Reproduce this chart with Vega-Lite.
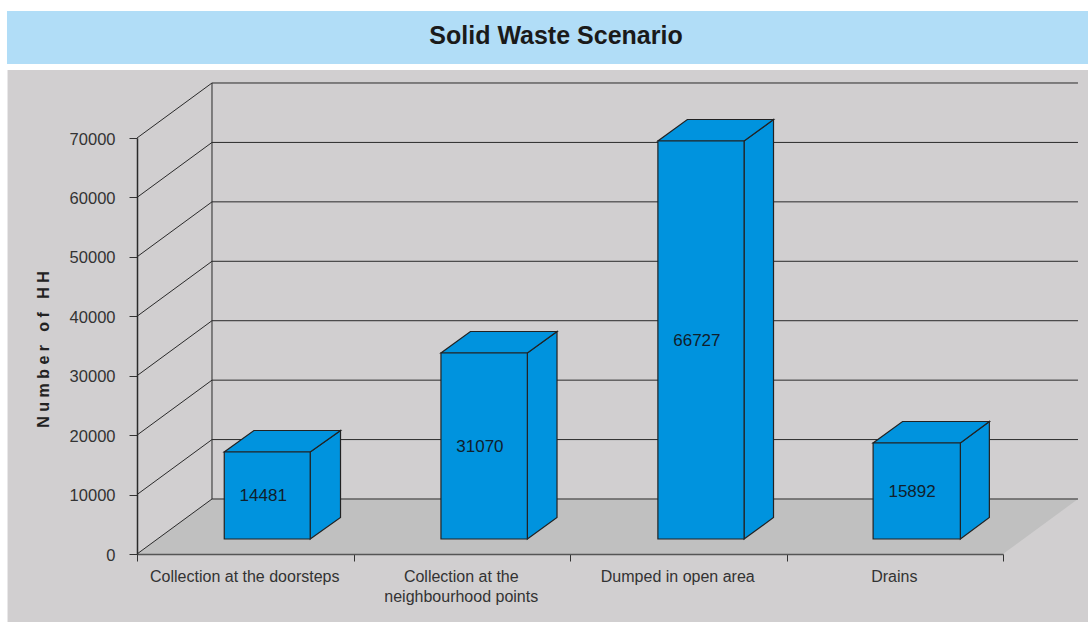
{
"$schema":"https://vega.github.io/schema/vega-lite/v6.json",
"width":866,"height":416,
"autosize":{"type":"none"},
"padding":{"left":137,"top":138,"right":85,"bottom":68},
"background":"#ffffff",
"config":{"view":{"stroke":null},"font":"Liberation Sans"},
"title":{"text":"Solid Waste Scenario","font":"Liberation Sans","fontWeight":"bold","fontSize":25,"color":"#1a1a1a","anchor":"middle","dx":-14,"offset":0,"dy":63,"baseline":"bottom","zindex":2},
"datasets":{
"regions":[
{"region":"panel","x0":-0.598,"x1":4.393,"y0":-11442,"y1":81440},
{"region":"banner","x0":-0.6005,"x1":4.393,"y0":82450,"y1":91367}],
"floor":[
{"x":0,"y0":0,"y1":0},
{"x":0.3464,"y0":0,"y1":9255},
{"x":4,"y0":0,"y1":9255},
{"x":4.3464,"y0":9255,"y1":9255}],
"wall":[
{"x0":0.3464,"x1":0.3464,"y0":9255,"y1":79255},
{"x0":0.3464,"x1":4.3464,"y0":9255,"y1":9255},
{"x0":0.3464,"x1":4.3464,"y0":19255,"y1":19255},
{"x0":0.3464,"x1":4.3464,"y0":29255,"y1":29255},
{"x0":0.3464,"x1":4.3464,"y0":39255,"y1":39255},
{"x0":0.3464,"x1":4.3464,"y0":49255,"y1":49255},
{"x0":0.3464,"x1":4.3464,"y0":59255,"y1":59255},
{"x0":0.3464,"x1":4.3464,"y0":69255,"y1":69255},
{"x0":0.3464,"x1":4.3464,"y0":79255,"y1":79255},
{"x0":0,"x1":0.3464,"y0":0,"y1":9255},
{"x0":0,"x1":0.3464,"y0":10000,"y1":19255},
{"x0":0,"x1":0.3464,"y0":20000,"y1":29255},
{"x0":0,"x1":0.3464,"y0":30000,"y1":39255},
{"x0":0,"x1":0.3464,"y0":40000,"y1":49255},
{"x0":0,"x1":0.3464,"y0":50000,"y1":59255},
{"x0":0,"x1":0.3464,"y0":60000,"y1":69255},
{"x0":0,"x1":0.3464,"y0":70000,"y1":79255}],
"bars":[
{"category":"Collection at the doorsteps","value":14481,"x0":0.403,"x1":0.80,"base":2524,"top":17163},
{"category":"Collection at the neighbourhood points","value":31070,"x0":1.404,"x1":1.803,"base":2524,"top":33821},
{"category":"Dumped in open area","value":66727,"x0":2.406,"x1":2.804,"base":2524,"top":69494},
{"category":"Drains","value":15892,"x0":3.40,"x1":3.803,"base":2524,"top":18677}],
"faces":[
{"id":"a-side","x":0.80,"y0":2524,"y1":17163},{"id":"a-side","x":0.94,"y0":6144,"y1":20783},
{"id":"a-top","x":0.403,"y0":17163,"y1":17163},{"id":"a-top","x":0.54,"y0":17163,"y1":20783},{"id":"a-top","x":0.80,"y0":17163,"y1":20783},{"id":"a-top","x":0.94,"y0":20783,"y1":20783},
{"id":"b-side","x":1.803,"y0":2524,"y1":33821},{"id":"b-side","x":1.94,"y0":6144,"y1":37441},
{"id":"b-top","x":1.404,"y0":33821,"y1":33821},{"id":"b-top","x":1.54,"y0":33821,"y1":37441},{"id":"b-top","x":1.803,"y0":33821,"y1":37441},{"id":"b-top","x":1.94,"y0":37441,"y1":37441},
{"id":"c-side","x":2.804,"y0":2524,"y1":69494},{"id":"c-side","x":2.94,"y0":6144,"y1":73114},
{"id":"c-top","x":2.406,"y0":69494,"y1":69494},{"id":"c-top","x":2.542,"y0":69494,"y1":73114},{"id":"c-top","x":2.804,"y0":69494,"y1":73114},{"id":"c-top","x":2.94,"y0":73114,"y1":73114},
{"id":"d-side","x":3.803,"y0":2524,"y1":18677},{"id":"d-side","x":3.937,"y0":6144,"y1":22297},
{"id":"d-top","x":3.40,"y0":18677,"y1":18677},{"id":"d-top","x":3.536,"y0":18677,"y1":22297},{"id":"d-top","x":3.803,"y0":18677,"y1":22297},{"id":"d-top","x":3.937,"y0":22297,"y1":22297}]
},
"layer":[
{"data":{"name":"regions"},"transform":[{"filter":"datum.region=='panel'"}],
 "mark":{"type":"rect","color":"#d1cfd0"},
 "encoding":{
 "x":{"field":"x0","type":"quantitative","scale":{"domain":[0,4],"nice":false,"zero":false},"axis":null},"x2":{"field":"x1"},
 "y":{"field":"y0","type":"quantitative","scale":{"domain":[0,70000],"nice":false},"axis":{"values":[0,10000,20000,30000,40000,50000,60000,70000],"format":"d","zindex":1,"grid":false,"domainColor":"#2a2a2a","domainWidth":1.5,"tickColor":"#333333","tickSize":8,"tickWidth":1,"labelFont":"Liberation Sans","labelFontSize":16.5,"labelColor":"#333333","labelPadding":14,"labelOffset":1,"title":"N u m b e r \u00a0 o f \u00a0 H H","titleFont":"Liberation Sans","titleFontWeight":"bold","titleFontSize":16,"titleColor":"#222222","titleX":-86,"titleY":211,"titleAngle":-90}},
 "y2":{"field":"y1"}}},
{"data":{"name":"regions"},"transform":[{"filter":"datum.region=='banner'"}],
 "mark":{"type":"rect","color":"#b1ddf7"},
 "encoding":{
 "x":{"field":"x0","type":"quantitative","scale":{"domain":[0,4],"nice":false,"zero":false},"axis":null},"x2":{"field":"x1"},
 "y":{"field":"y0","type":"quantitative","scale":{"domain":[0,70000],"nice":false},"axis":null},"y2":{"field":"y1"}}},
{"data":{"name":"floor"},
 "mark":{"type":"area","color":"#c0c0c0"},
 "encoding":{
 "x":{"field":"x","type":"quantitative","scale":{"domain":[0,4],"nice":false,"zero":false},"axis":null},
 "y":{"field":"y0","type":"quantitative","scale":{"domain":[0,70000],"nice":false},"axis":null},"y2":{"field":"y1"}}},
{"data":{"name":"wall"},
 "mark":{"type":"rule","color":"#2a2a2a","strokeWidth":1},
 "encoding":{
 "x":{"field":"x0","type":"quantitative","scale":{"domain":[0,4],"nice":false,"zero":false},"axis":null},"x2":{"field":"x1"},
 "y":{"field":"y0","type":"quantitative","scale":{"domain":[0,70000],"nice":false},"axis":null},"y2":{"field":"y1"}}},
{"data":{"name":"bars"},
 "mark":{"type":"bar","opacity":0},
 "encoding":{
 "x":{"field":"category","type":"nominal","sort":null,"scale":{"paddingInner":0,"paddingOuter":0},"axis":{"title":null,"zindex":1,"labelAngle":0,"labelFont":"Liberation Sans","labelFontSize":16,"labelColor":"#333333","labelLineHeight":20,"labelPadding":7,"labelOffset":-1,"labelLimit":300,"tickBand":"extent","tickSize":7,"tickColor":"#333333","domainColor":"#555555","domainWidth":1.5,"labelExpr":"datum.label=='Collection at the neighbourhood points'?['Collection at the','neighbourhood points']:datum.label"}},
 "y":{"field":"top","type":"quantitative","scale":{"domain":[0,70000],"nice":false},"axis":null}}},
{"data":{"name":"faces"},
 "mark":{"type":"area","color":"#0093de","stroke":"#222222","strokeWidth":1.2},
 "encoding":{
 "detail":{"field":"id"},
 "x":{"field":"x","type":"quantitative","scale":{"domain":[0,4],"nice":false,"zero":false},"axis":null},
 "y":{"field":"y0","type":"quantitative","scale":{"domain":[0,70000],"nice":false},"axis":null},"y2":{"field":"y1"}}},
{"data":{"name":"bars"},
 "mark":{"type":"rect","color":"#0093de","stroke":"#222222","strokeWidth":1.2},
 "encoding":{
 "x":{"field":"x0","type":"quantitative","scale":{"domain":[0,4],"nice":false,"zero":false},"axis":null},"x2":{"field":"x1"},
 "y":{"field":"base","type":"quantitative","scale":{"domain":[0,70000],"nice":false},"axis":null},"y2":{"field":"top"}}},
{"data":{"name":"bars"},
 "transform":[{"calculate":"datum.x0+0.18","as":"lx"},{"calculate":"(datum.base+datum.top)/2-100","as":"ly"}],
 "mark":{"type":"text","font":"Liberation Sans","fontSize":17,"color":"#10202c","align":"center","baseline":"middle"},
 "encoding":{
 "text":{"field":"value","type":"quantitative","format":"d"},
 "x":{"field":"lx","type":"quantitative","scale":{"domain":[0,4],"nice":false,"zero":false},"axis":null},
 "y":{"field":"ly","type":"quantitative","scale":{"domain":[0,70000],"nice":false},"axis":null}}}
],
"resolve":{"scale":{"x":"independent"},"axis":{"x":"independent","y":"independent"}}
}
